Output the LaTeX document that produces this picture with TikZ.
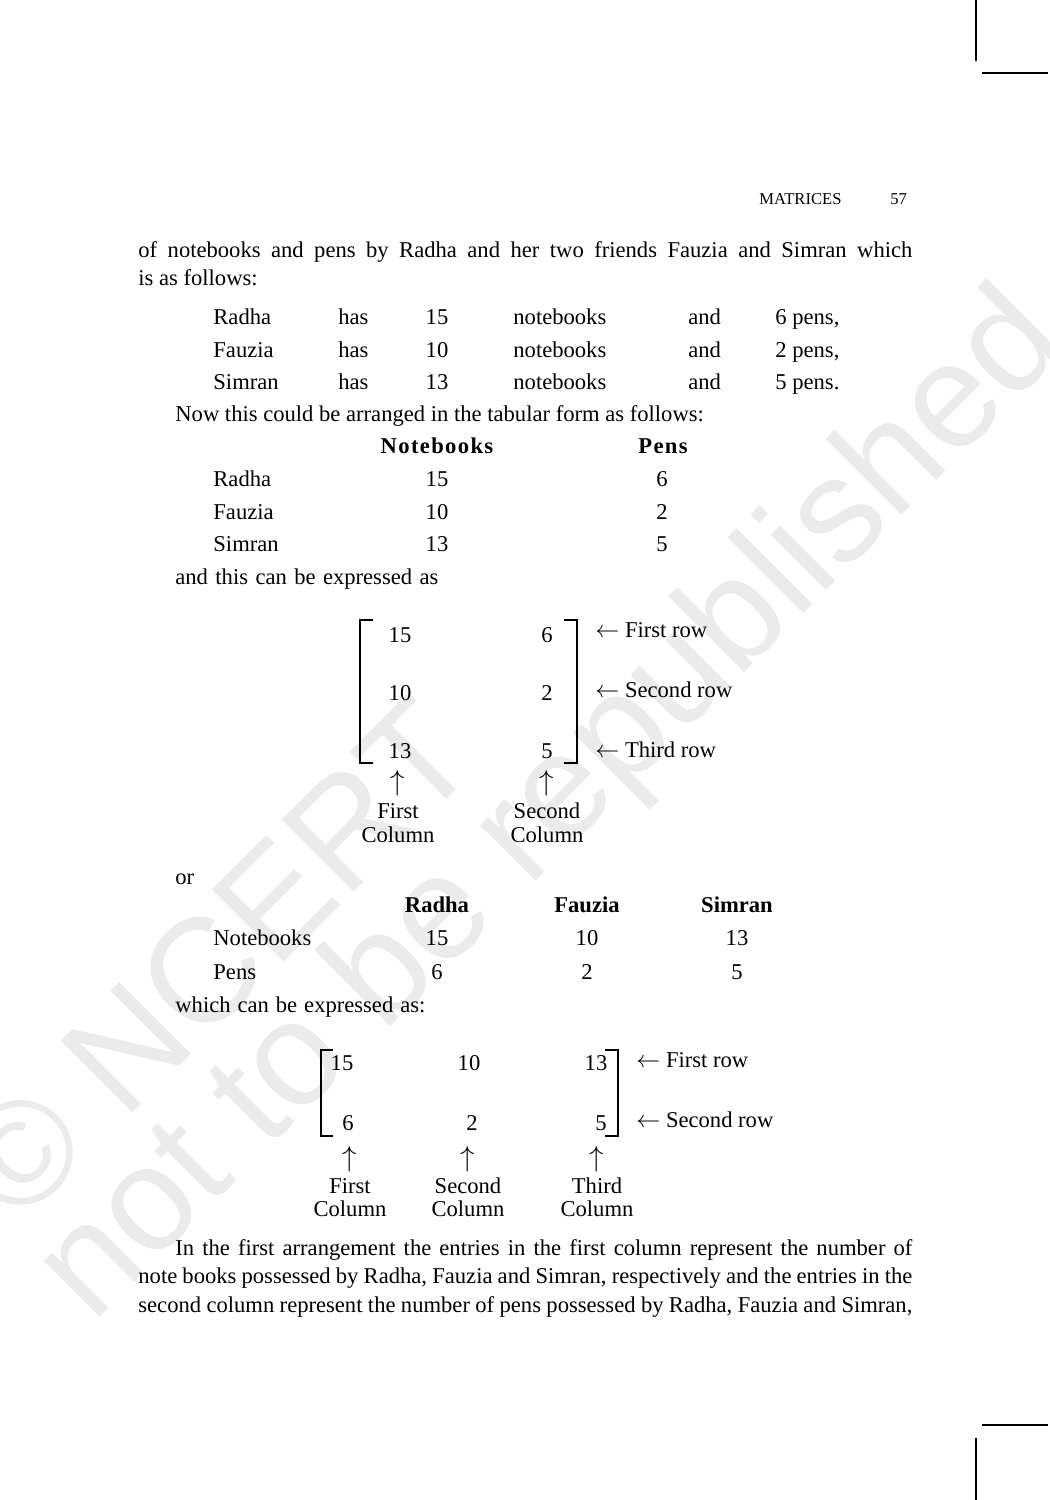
\documentclass[tikz,border=0pt]{standalone}
\usepackage{fontspec}
\setmainfont{Liberation Serif}
\newfontfamily\wmfont{Liberation Sans}
\newfontfamily\spacedfont[LetterSpace=6]{Liberation Serif}
\newcommand\larr{{\fontsize{13}{15}\selectfont$\leftarrow$}}
\newcommand\uarr{{\fontsize{14.5}{16}\selectfont$\uparrow$}}
\tikzset{
  txt/.style={anchor=base west, inner sep=0pt},
  num/.style={anchor=base, inner sep=0pt},
  wm/.style={anchor=base west, inner sep=0pt, rotate=45, text=black!8, font=\wmfont\fontsize{74}{76}\selectfont},
  brk/.style={line width=0.9pt},
  crop/.style={line width=1pt}
}

\begin{document}
\begin{tikzpicture}[x=0.5pt, y=-0.5pt, font=\fontsize{11.3}{13}\selectfont]
			%%%%% START %%%%%
			\useasboundingbox (0,0) rectangle (1050,1500);
			
			% watermark
			\node[wm] (wmA) at (18,1228) {© NCERT};
			\node[wm] (wmB) at (92,1325) {not to be republished};
			
			% crop marks
			\draw[crop] (976,0) -- (976,61);
			\draw[crop] (982,73) -- (1048,73);
			\draw[crop] (982,1425) -- (1048,1425);
			\draw[crop] (976,1438) -- (976,1500);
			
			\node[txt, font=\fontsize{8.3}{10}\selectfont] (head) at (759,204) {MATRICES};
			\node[txt, font=\fontsize{8.3}{10}\selectfont] (page) at (890,204) {57};
			
			\node[txt] (l1) at (138,257) {\makebox[387pt][s]{of notebooks and pens by Radha and her two friends Fauzia and Simran which}};
			\node[txt] (l2) at (138,285) {is as follows:};
			
			\foreach \nm/\nb/\pn/\y [count=\i] in {Radha/15/{6 pens,}/324, Fauzia/10/{2 pens,}/357, Simran/13/{5 pens.}/389.5}{
				\node[txt] (who\i) at (213,\y) {\nm};
				\node[txt] (has\i) at (338,\y) {has};
				\node[num] (nb\i) at (437,\y) {\nb};
				\node[txt] (nbw\i) at (513,\y) {notebooks};
				\node[txt] (and\i) at (688,\y) {and};
				\node[txt] (pn\i) at (775,\y) {\pn};
			}
			
			\node[txt] (l3) at (175,421.5) {Now this could be arranged in the tabular form as follows:};
			\node[num] (hNb) at (437,453) {\spacedfont\bfseries Notebooks};
			\node[num] (hPn) at (663,453) {\spacedfont\bfseries Pens};
			
			\foreach \nm/\nb/\pn/\y [count=\i] in {Radha/15/6/486, Fauzia/10/2/519, Simran/13/5/551}{
				\node[txt] (tw\i) at (213,\y) {\nm};
				\node[num] (tnb\i) at (437,\y) {\nb};
				\node[num] (tpn\i) at (662,\y) {\pn};
			}
			
			\node[txt] (l4) at (175,584) {\makebox[131.5pt][s]{and this can be expressed as}};
			
			% first matrix
			\draw[brk] (373,620) -- (360,620) -- (360,763) -- (373,763);
			\draw[brk] (564,620) -- (577,620) -- (577,763) -- (564,763);
			\foreach \a/\b/\y [count=\i] in {15/6/642, 10/2/700, 13/5/758}{
				\node[num] (ma\i) at (400,\y) {\a};
				\node[num] (mb\i) at (547,\y) {\b};
			}
			\node[txt] (r1) at (595,637) {\larr\ First row};
			\node[txt] (r2) at (595,697) {\larr\ Second row};
			\node[txt] (r3) at (595,757) {\larr\ Third row};
			\node[inner sep=0pt] (u1) at (398,783) {\uarr};
			\node[inner sep=0pt] (u2) at (547,783) {\uarr};
			\node[num] (c1a) at (398,818) {First};
			\node[num] (c1b) at (398,842) {Column};
			\node[num] (c2a) at (547,818) {Second};
			\node[num] (c2b) at (547,842) {Column};
			
			\node[txt] (l5) at (175,884) {or};
			\node[num] (hR) at (437,912) {\bfseries Radha};
			\node[num] (hF) at (587,912) {\bfseries Fauzia};
			\node[num] (hS) at (737,912) {\bfseries Simran};
			\node[txt] (rN) at (213,945) {Notebooks};
			\node[txt] (rP) at (213,979) {Pens};
			\foreach \x/\a/\b [count=\i] in {437/15/6, 587/10/2, 737/13/5}{
				\node[num] (sa\i) at (\x,945) {\a};
				\node[num] (sb\i) at (\x,979) {\b};
			}
			\node[txt] (l6) at (175,1012) {\makebox[125pt][s]{which can be expressed as:}};
			
			% second matrix
			\draw[brk] (333,1050) -- (321,1050) -- (321,1136) -- (333,1136);
			\draw[brk] (605,1050) -- (618,1050) -- (618,1136) -- (605,1136);
			\foreach \x/\a/\y [count=\i] in {342/15/1070, 469/10/1070, 596/13/1070, 348/6/1130, 472/2/1130, 601/5/1130}{
				\node[num] (mm\i) at (\x,\y) {\a};
			}
			\node[txt] (s1) at (636,1067) {\larr\ First row};
			\node[txt] (s2) at (636,1127) {\larr\ Second row};
			\foreach \x/\w [count=\i] in {350/First, 468/Second, 597/Third}{
				\node[inner sep=0pt] (v\i) at (\x,1159) {\uarr};
				\node[num] (d\i a) at (\x,1193) {\w};
				\node[num] (d\i b) at (\x,1216) {Column};
			}
			
			\node[txt] (p1) at (175,1255) {\makebox[368.5pt][s]{In the first arrangement the entries in the first column represent the number of}};
			\node[txt] (p2) at (138,1283.5) {\makebox[387pt][s]{note books possessed by Radha, Fauzia and Simran, respectively and the entries in the}};
			\node[txt] (p3) at (138,1312) {\makebox[387pt][s]{second column represent the number of pens possessed by Radha, Fauzia and Simran,}};
			
			%%%%% END %%%%%
\end{tikzpicture}
\end{document}
